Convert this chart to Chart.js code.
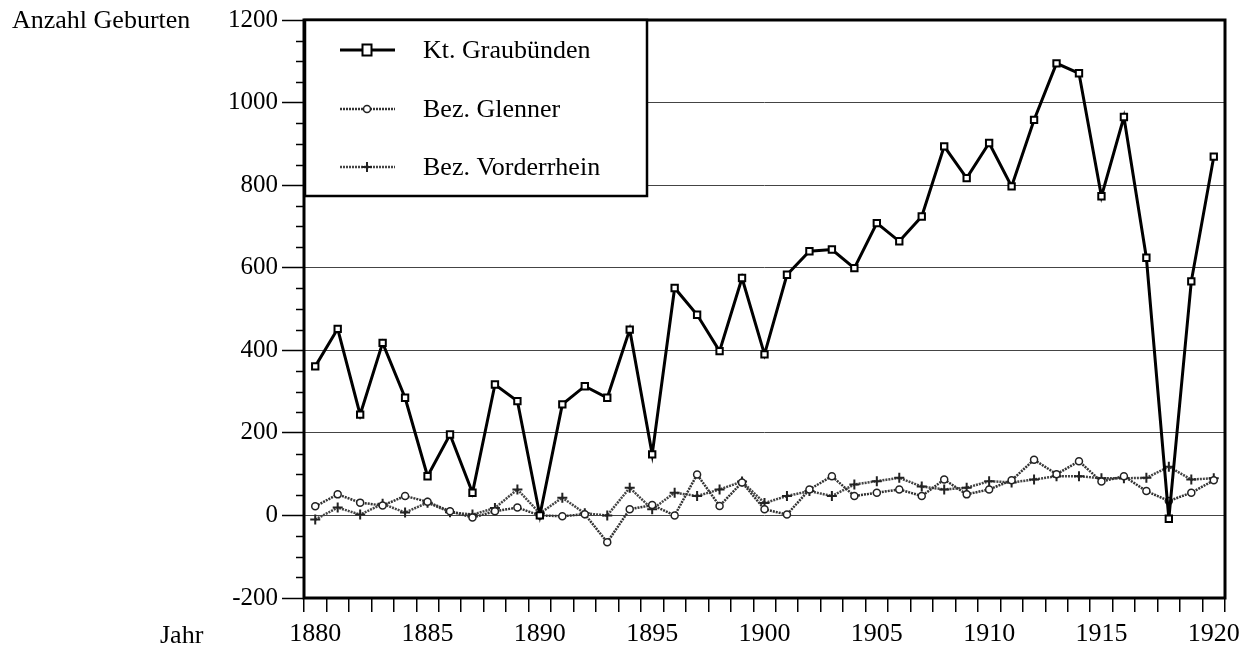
<!DOCTYPE html>
<html><head><meta charset="utf-8">
<script src="https://cdn.jsdelivr.net/npm/chart.js@4.4.1/dist/chart.umd.min.js"></script>
<style>html,body{margin:0;padding:0;background:#fff;}#wrap{width:1252px;height:649px;position:relative;}</style>
</head><body><div id="wrap"><canvas id="c" width="1252" height="649"></canvas></div>
<script>
const years = [1880,1881,1882,1883,1884,1885,1886,1887,1888,1889,1890,1891,1892,1893,1894,1895,1896,1897,1898,1899,1900,1901,1902,1903,1904,1905,1906,1907,1908,1909,1910,1911,1912,1913,1914,1915,1916,1917,1918,1919,1920];
const graubuenden = [361,452,244,418,285,95,196,55,317,277,0,269,313,285,450,148,551,486,398,575,390,583,640,644,599,708,664,724,894,817,902,797,958,1095,1071,773,965,624,-8,567,869];
const glenner = [22,51,31,24,47,33,10,-5,10,19,0,-2,3,-65,15,25,0,99,23,80,15,2,63,95,47,55,63,47,87,51,63,85,135,100,131,82,95,59,35,55,85];
const vorderrhein = [-10,19,2,28,7,31,8,2,18,63,5,43,5,0,67,15,55,47,63,82,30,47,59,47,75,83,91,70,63,67,83,80,87,95,95,90,90,91,118,87,90];
const seriesNames = ['Kt. Graubünden','Bez. Glenner','Bez. Vorderrhein'];
const yMin = -200, yMax = 1200, yMajor = 200, yMinor = 50, xLabelEvery = 5;
const yTitle = 'Anzahl Geburten', xTitle = 'Jahr';

const SERIF = '"Liberation Serif", "Times New Roman", serif';

function drawMarker(ctx, style, x, y, r, stroke, fill, lw){
  ctx.save();
  ctx.lineWidth = lw; ctx.strokeStyle = stroke; ctx.fillStyle = fill;
  ctx.beginPath();
  if (style === 'rect') { ctx.rect(x-r, y-r*1.2, 2*r, 2.4*r); ctx.fill(); ctx.stroke(); }
  else if (style === 'circle') { ctx.arc(x, y, r, 0, Math.PI*2); ctx.fill(); ctx.stroke(); }
  else if (style === 'cross') { ctx.moveTo(x-r,y); ctx.lineTo(x+r,y); ctx.moveTo(x,y-r); ctx.lineTo(x,y+r); ctx.stroke(); }
  ctx.restore();
}

const decor = {
  id: 'decor',
  beforeDatasetsDraw(chart){
    const ctx = chart.ctx, ca = chart.chartArea, ys = chart.scales.y;
    ctx.save();
    ctx.strokeStyle = '#000'; ctx.lineWidth = 1.5;
    for (let v = yMin; v <= yMax; v += yMinor){
      if (v % yMajor === 0) continue;
      const py = Math.round(ys.getPixelForValue(v)) + 0.5;
      ctx.beginPath(); ctx.moveTo(ca.left - 8, py); ctx.lineTo(ca.left, py); ctx.stroke();
    }
    ctx.restore();
  },
  afterDatasetsDraw(chart){
    const ctx = chart.ctx, ca = chart.chartArea;
    ctx.save();
    ctx.strokeStyle = '#000'; ctx.lineWidth = 3;
    ctx.strokeRect(ca.left, ca.top, ca.width, ca.height);
    const lx = ca.left + 1, ly = ca.top, lw = 342, lh = 176;
    ctx.fillStyle = '#fff'; ctx.fillRect(lx, ly, lw, lh);
    ctx.lineWidth = 2.5; ctx.strokeRect(lx, ly, lw, lh);
    const rows = [30, 89, 147];
    ctx.font = '26px ' + SERIF; ctx.textBaseline = 'middle'; ctx.textAlign = 'left';
    chart.data.datasets.forEach((ds, i) => {
      const yy = ly + rows[i];
      ctx.save();
      ctx.strokeStyle = ds.borderColor; ctx.lineWidth = ds.borderWidth;
      ctx.setLineDash(ds.borderDash || []);
      ctx.beginPath(); ctx.moveTo(lx + 35, yy); ctx.lineTo(lx + 90, yy); ctx.stroke();
      ctx.restore();
      drawMarker(ctx, ds.pointStyle, lx + 62, yy, ds.pointRadius, ds.pointBorderColor, ds.pointBackgroundColor, ds.pointBorderWidth);
      ctx.fillStyle = '#000';
      ctx.fillText(ds.label, lx + 118, yy + 1);
    });
    ctx.restore();
  },
  afterDraw(chart){
    const ctx = chart.ctx, ca = chart.chartArea, ys = chart.scales.y;
    ctx.save();
    ctx.fillStyle = '#000'; ctx.font = '26px ' + SERIF; ctx.textBaseline = 'middle'; ctx.textAlign = 'left';
    ctx.fillText(yTitle, 12, ys.getPixelForValue(yMax) + 1);
    ctx.fillText(xTitle, 160, ca.bottom + 38);
    ctx.restore();
  }
};

const labels = years.map(String);
new Chart(document.getElementById('c'), {
  type: 'line',
  data: {
    labels,
    datasets: [
      { label: seriesNames[0], data: graubuenden, borderColor: '#000', borderWidth: 3,
        pointStyle: 'rect', pointRadius: 4.5, pointBorderColor: '#000', pointBackgroundColor: '#fff', pointBorderWidth: 2, tension: 0, order: 0 },
      { label: seriesNames[1], data: glenner, borderColor: '#333', borderWidth: 2.5, borderDash: [2, 1],
        pointStyle: 'circle', pointRadius: 3.5, pointBorderColor: '#222', pointBackgroundColor: '#fff', pointBorderWidth: 1.5, tension: 0, order: 1 },
      { label: seriesNames[2], data: vorderrhein, borderColor: '#444', borderWidth: 2.5, borderDash: [2, 1],
        pointStyle: 'cross', pointRadius: 5, pointBorderColor: '#222', pointBackgroundColor: '#fff', pointBorderWidth: 2, tension: 0, order: 2 }
    ]
  },
  options: {
    responsive: false, animation: false, devicePixelRatio: 1,
    layout: { padding: { left: 224, right: 27, top: 20, bottom: 0 } },
    plugins: { legend: { display: false }, tooltip: { enabled: false } },
    scales: {
      x: {
        type: 'category', offset: true,
        grid: { offset: true, drawOnChartArea: false, drawTicks: true, tickLength: 14, color: '#000', lineWidth: 1.5 },
        border: { display: false },
        ticks: { autoSkip: false, maxRotation: 0, minRotation: 0, padding: 7, color: '#000', font: { family: SERIF, size: 26 },
          callback: (v, i) => (years[i] % xLabelEvery === 0 ? String(years[i]) : '') },
        afterFit: s => { s.height = 51; }
      },
      y: {
        min: yMin, max: yMax,
        grid: { color: '#444', lineWidth: 1, tickLength: 22, tickColor: '#000', tickWidth: 1.5 },
        border: { display: false },
        ticks: { stepSize: yMajor, padding: 4, color: '#000', font: { family: SERIF, size: 25 }, callback: v => String(v) },
        afterFit: s => { s.width = 80; }
      }
    }
  },
  plugins: [decor]
});
</script></body></html>
